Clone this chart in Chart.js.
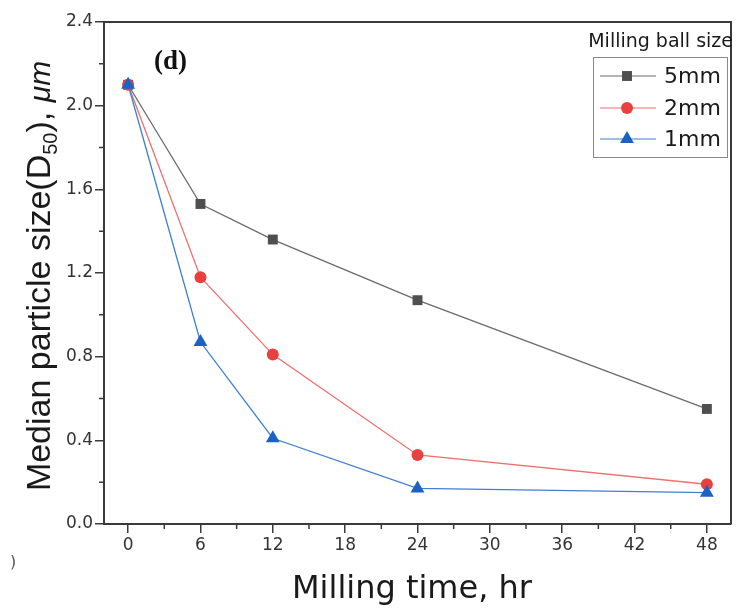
<!DOCTYPE html>
<html>
<head>
<meta charset="utf-8">
<title>Median particle size vs milling time</title>
<script src="https://cdn.jsdelivr.net/npm/chart.js@4.4.1/dist/chart.umd.min.js"></script>
<style>
  html, body { margin: 0; padding: 0; background: #fff; }
  #wrap { width: 739px; height: 610px; }
</style>
</head>
<body>
<div id="wrap"><canvas id="sizeChart" width="739" height="610"></canvas></div>
<script>
/* ================= DATA ================= */
const millingHours = [0, 6, 12, 24, 48];
const size5mm = [2.10, 1.53, 1.36, 1.07, 0.55];
const size2mm = [2.10, 1.18, 0.81, 0.33, 0.19];
const size1mm = [2.10, 0.87, 0.41, 0.17, 0.15];
const seriesNames = ['5mm', '2mm', '1mm'];

const xTicks = [0, 6, 12, 18, 24, 30, 36, 42, 48];
const xMinorTicks = [3, 9, 15, 21, 27, 33, 39, 45];
const yTicks = [0, 0.4, 0.8, 1.2, 1.6, 2.0, 2.4];
const yMinorTicks = [0.2, 0.6, 1.0, 1.4, 1.8, 2.2];

const AXIS = '#3a3a3a';
const TICK_FONT = { family: 'DejaVu Sans', size: 17 };

function toPoints(ys) {
  return millingHours.map((h, i) => ({ x: h, y: ys[i] }));
}

function drawMarker(ctx, style, x, y, r) {
  if (style === 'rect') {
    const s = r * Math.SQRT1_2;
    ctx.rect(x - s, y - s, 2 * s, 2 * s);
  } else if (style === 'triangle') {
    ctx.moveTo(x, y - r);
    ctx.lineTo(x + r * 0.866, y + r * 0.5);
    ctx.lineTo(x - r * 0.866, y + r * 0.5);
    ctx.closePath();
  } else {
    ctx.arc(x, y, r, 0, Math.PI * 2);
  }
}

/* ================= DECORATION PLUGIN ================= */
// frame, minor ticks, axis titles, panel label and legend box
const decorPlugin = {
  id: 'decor',
  afterDraw(chart) {
    const ctx = chart.ctx;
    const a = chart.chartArea;
    const xs = chart.scales.x;
    const ys = chart.scales.y;
    ctx.save();

    // frame on top / right
    ctx.strokeStyle = AXIS;
    ctx.lineWidth = 2;
    ctx.beginPath();
    ctx.moveTo(a.left, a.top);
    ctx.lineTo(a.right, a.top);
    ctx.lineTo(a.right, a.bottom);
    ctx.stroke();

    // minor ticks
    ctx.lineWidth = 1.5;
    ctx.beginPath();
    xMinorTicks.forEach(v => {
      const px = xs.getPixelForValue(v);
      ctx.moveTo(px, a.bottom);
      ctx.lineTo(px, a.bottom + 5);
    });
    yMinorTicks.forEach(v => {
      const py = ys.getPixelForValue(v);
      ctx.moveTo(a.left, py);
      ctx.lineTo(a.left - 5, py);
    });
    ctx.stroke();

    // x title
    ctx.fillStyle = '#1a1a1a';
    ctx.textAlign = 'center';
    ctx.textBaseline = 'alphabetic';
    ctx.font = '32px "DejaVu Sans"';
    ctx.fillText('Milling time, hr', 412, 598);

    // y title with subscript, rotated
    const parts = [
      { t: 'Median particle size(D', f: '34px "Liberation Sans"', dy: 0 },
      { t: '50', f: '20px "Liberation Sans"', dy: 7 },
      { t: '), ', f: '34px "Liberation Sans"', dy: 0 },
      { t: 'μm', f: 'italic 30px "Liberation Sans"', dy: 0 }
    ];
    let total = 0;
    parts.forEach(p => { ctx.font = p.f; p.w = ctx.measureText(p.t).width; total += p.w; });
    ctx.translate(50, 276);
    ctx.rotate(-Math.PI / 2);
    ctx.textAlign = 'left';
    let cx = -total / 2;
    parts.forEach(p => {
      ctx.font = p.f;
      ctx.fillText(p.t, cx, p.dy);
      cx += p.w;
    });
    ctx.setTransform(1, 0, 0, 1, 0, 0);

    // panel label
    ctx.font = 'bold 27px "Liberation Serif"';
    ctx.textAlign = 'left';
    ctx.fillStyle = '#111';
    ctx.fillText('(d)', 154, 69);

    // stray mark at lower left of the figure
    ctx.font = '16px "DejaVu Sans"';
    ctx.fillStyle = '#555';
    ctx.fillText(')', 10, 567);

    // legend
    ctx.fillStyle = '#1a1a1a';
    ctx.font = '19px "DejaVu Sans"';
    ctx.textAlign = 'right';
    ctx.fillText('Milling ball size', 733, 47);

    ctx.strokeStyle = '#8a8a8a';
    ctx.lineWidth = 1;
    ctx.strokeRect(593.5, 57.5, 134, 100);

    const rows = [76, 108, 139];
    ctx.textAlign = 'left';
    ctx.textBaseline = 'middle';
    ctx.font = '22px "DejaVu Sans"';
    chart.data.datasets.forEach((ds, i) => {
      const y = rows[i];
      ctx.strokeStyle = ds.borderColor;
      ctx.lineWidth = 1.2;
      ctx.beginPath();
      ctx.moveTo(600, y);
      ctx.lineTo(656, y);
      ctx.stroke();
      ctx.fillStyle = ds.pointBackgroundColor;
      ctx.beginPath();
      drawMarker(ctx, ds.pointStyle, 627, y, ds.pointRadius);
      ctx.fill();
      ctx.fillStyle = '#1a1a1a';
      ctx.fillText(ds.label, 664, y + 1);
    });

    ctx.restore();
  }
};

/* ================= CHART ================= */
const ctx = document.getElementById('sizeChart').getContext('2d');

new Chart(ctx, {
  type: 'scatter',
  data: {
    datasets: [
      {
        label: seriesNames[0],
        data: toPoints(size5mm),
        showLine: true,
        borderColor: '#6b6b6b',
        borderWidth: 1.3,
        pointStyle: 'rect',
        pointRadius: 7,
        pointBackgroundColor: '#4f4f4f',
        pointBorderWidth: 0,
        order: 2
      },
      {
        label: seriesNames[1],
        data: toPoints(size2mm),
        showLine: true,
        borderColor: '#ef6f6f',
        borderWidth: 1.3,
        pointStyle: 'circle',
        pointRadius: 6,
        pointBackgroundColor: '#e8403f',
        pointBorderWidth: 0,
        order: 1
      },
      {
        label: seriesNames[2],
        data: toPoints(size1mm),
        showLine: true,
        borderColor: '#3f7fd0',
        borderWidth: 1.3,
        pointStyle: 'triangle',
        pointRadius: 8,
        pointBackgroundColor: '#1c62c4',
        pointBorderWidth: 0,
        order: 0
      }
    ]
  },
  options: {
    responsive: false,
    animation: false,
    layout: { padding: { left: 0, right: 2, top: 22, bottom: 0 } },
    plugins: {
      legend: { display: false },
      tooltip: { enabled: false }
    },
    scales: {
      x: {
        type: 'linear',
        min: -2,
        max: 50,
        afterBuildTicks: s => { s.ticks = xTicks.map(v => ({ value: v })); },
        afterFit: s => { s.height = 86; },
        border: { color: AXIS, width: 2 },
        grid: { drawOnChartArea: false, drawTicks: true, tickLength: 9, color: AXIS, lineWidth: 1.5 },
        ticks: { color: '#333', font: TICK_FONT, padding: 2, maxRotation: 0 }
      },
      y: {
        type: 'linear',
        min: 0,
        max: 2.4,
        afterBuildTicks: s => { s.ticks = yTicks.map(v => ({ value: v })); },
        afterFit: s => { s.width = 104; },
        border: { color: AXIS, width: 2 },
        grid: { drawOnChartArea: false, drawTicks: true, tickLength: 9, color: AXIS, lineWidth: 1.5 },
        ticks: { color: '#333', font: TICK_FONT, padding: 2, callback: v => v.toFixed(1) }
      }
    }
  },
  plugins: [decorPlugin]
});
</script>
</body>
</html>
